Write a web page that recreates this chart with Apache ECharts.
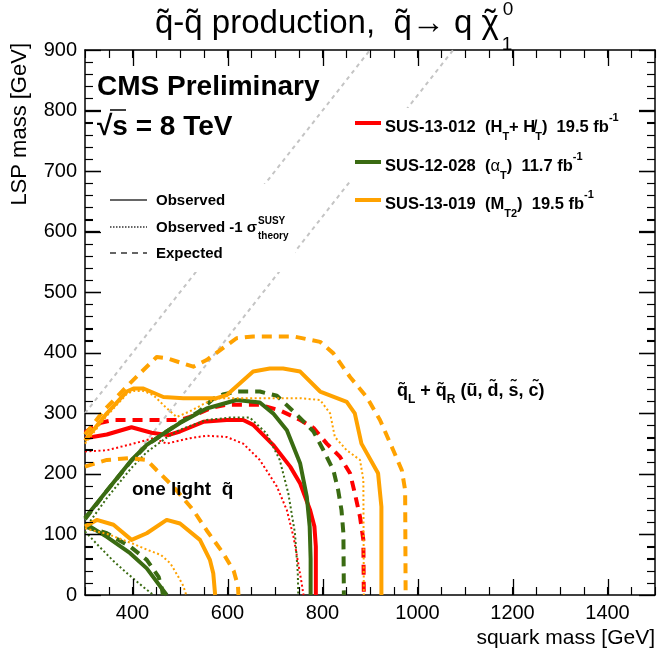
<!DOCTYPE html>
<html><head><meta charset="utf-8">
<script src="https://cdn.jsdelivr.net/npm/echarts@6/dist/echarts.min.js"></script>
<style>html,body{margin:0;padding:0;background:#fff}#c{width:657px;height:664px}</style>
</head><body><div id="c"></div>
<script>
// ---- axis ranges and tick labels ----
const xMin = 300, xMax = 1500;
const yMin = 0, yMax = 900;
const xLabelValues = [400, 600, 800, 1000, 1200, 1400];
const xMinorStep = 50;
const yLabelStep = 100;
const yMinorStep = 20;

// ---- reference diagonals (mLSP = msquark - dm) ----
const diagonalA = [[300, 300], [900, 900]];
const diagonalB = [[300, 125], [1075, 900]];

// ---- SUS-13-012 (HT + MHT), red ----
const redObs = [[300,259],[346,265],[398,277],[440,268],[475,264],[500,270],[549,286],[598,289],[633,289],[654,281],[696,248],[732,212],[753,184],[774,140],[783,113],[786,80],[786,0]];
const redExp = [[300,268],[325,283],[360,289],[500,289],[521,294],[570,310],[598,314],[668,314],[710,305],[753,289],[781,276],[809,250],[837,228],[858,201],[868,168],[879,129],[886,91],[887,0]];
const redObsM1 = [[300,237],[346,239],[402,250],[444,259],[472,250],[521,259],[556,263],[598,261],[633,250],[668,223],[704,179],[725,140],[739,96],[749,52],[756,20],[760,0]];

// ---- SUS-12-028 (alphaT), green ----
const greenObs = [[300,127],[346,172],[398,223],[430,248],[472,270],[500,284],[556,308],[619,322],[668,318],[696,300],[725,272],[753,217],[767,162],[773,113],[775,60],[775,0]];
const greenObsLow = [[300,118],[346,96],[395,69],[430,44],[472,0]];
const greenExp = [[300,125],[346,172],[398,222],[430,247],[472,270],[500,285],[540,303],[556,314],[570,324],[590,331],[619,336],[668,336],[704,329],[739,303],[781,270],[802,239],[823,206],[833,173],[840,140],[844,102],[845,0]];
const greenExpLow = [[300,113],[346,102],[395,80],[430,58],[455,30],[462,10],[464,0]];
const greenObsM1 = [[300,110],[346,160],[398,210],[430,236],[472,260],[500,273],[556,289],[605,293],[647,293],[682,267],[710,223],[728,168],[742,102],[748,36],[749,0]];
const greenObsM1Low = [[300,105],[330,80],[360,56],[390,35],[420,15],[444,0]];

// ---- SUS-13-019 (MT2), orange ----
const orangeObs = [[300,255],[346,300],[388,336],[402,341],[423,341],[465,327],[507,325],[577,325],[598,330],[654,369],[689,374],[717,374],[753,369],[795,336],[851,319],[868,300],[882,250],[917,201],[924,146],[924,0]];
const orangeObsLow = [[300,113],[325,124],[360,116],[398,91],[430,102],[472,124],[500,118],[542,91],[563,58],[570,36],[574,0]];
const orangeExp = [[300,265],[340,305],[395,350],[451,393],[472,391],[528,377],[556,388],[619,424],[654,427],[739,427],[795,418],[823,399],[858,360],[893,327],[921,289],[949,239],[967,206],[974,173],[975,0]];
const orangeExpLow = [[300,212],[346,223],[395,226],[430,223],[451,206],[486,179],[528,140],[556,107],[591,69],[613,40],[622,15],[623,0]];
const orangeObsM1 = [[300,250],[346,296],[388,332],[402,337],[423,337],[444,330],[470,310],[493,294],[520,303],[556,318],[584,325],[753,325],[795,322],[816,300],[826,261],[851,239],[879,223],[886,190],[887,0]];
const orangeObsM1Low = [[300,110],[350,100],[400,85],[430,75],[460,66],[480,52],[495,32],[507,15],[513,0]];

const RED = '#ff0000', GREEN = '#3a6b12', ORANGE = '#ffa200', GRAY = '#c4c4c4';
const FONT = '"Liberation Sans", Arial, Helvetica, sans-serif';
const GRID = {left: 85, right: 2, top: 50, bottom: 69};
const W = 657, H = 664;

function mk(data, color, kind, z) {
  const st = kind === 'solid' ? {width: 4, type: 'solid'}
           : kind === 'dashed' ? {width: 4, type: [10, 7]}
           : kind === 'dotted' ? {width: 2, type: [2, 2.5]}
           : {width: 2, type: [4, 4]};
  return {type: 'line', data: data, showSymbol: false, symbol: 'none', silent: true,
    animation: false, z: z, clip: true,
    lineStyle: {color: color, width: st.width, type: st.type, cap: 'butt', join: 'round'}};
}

const series = [
  mk(diagonalA, GRAY, 'gray', 1), mk(diagonalB, GRAY, 'gray', 1),
  mk(redObsM1, RED, 'dotted', 2), mk(redExp, RED, 'dashed', 2), mk(redObs, RED, 'solid', 2),
  mk(greenObsM1, GREEN, 'dotted', 3), mk(greenObsM1Low, GREEN, 'dotted', 3),
  mk(greenExp, GREEN, 'dashed', 3), mk(greenExpLow, GREEN, 'dashed', 3),
  mk(greenObs, GREEN, 'solid', 3), mk(greenObsLow, GREEN, 'solid', 3),
  mk(orangeObsM1, ORANGE, 'dotted', 4), mk(orangeObsM1Low, ORANGE, 'dotted', 4),
  mk(orangeExp, ORANGE, 'dashed', 4), mk(orangeExpLow, ORANGE, 'dashed', 4),
  mk(orangeObs, ORANGE, 'solid', 4), mk(orangeObsLow, ORANGE, 'solid', 4)
];

const lineAx = {show: true, onZero: false, lineStyle: {color: '#000', width: 1.5}};
function xAx(pos, withLabels) {
  return {type: 'value', min: xMin, max: xMax, interval: xMinorStep, position: pos,
    axisLine: lineAx, splitLine: {show: false},
    axisTick: {show: true, inside: true, length: 8, lineStyle: {color: '#000', width: 1.1}},
    axisLabel: withLabels ? {show: true, customValues: xLabelValues, color: '#000',
      fontSize: 20, fontFamily: FONT, margin: 8, formatter: v => String(v)} : {show: false}};
}
function yAx(pos, withLabels) {
  return {type: 'value', min: yMin, max: yMax, interval: yLabelStep, position: pos,
    axisLine: lineAx, splitLine: {show: false},
    axisTick: {show: true, inside: true, length: 16, lineStyle: {color: '#000', width: 1.3}},
    minorTick: {show: true, splitNumber: 5, length: 8, lineStyle: {color: '#000', width: 1.1}},
    axisLabel: withLabels ? {show: true, color: '#000', fontSize: 20, fontFamily: FONT, margin: 8, formatter: v => String(v)} : {show: false}};
}

const legendLines = [
  {y: 123, color: RED, t: '{b|SUS-13-012  (H}{s|T}{b|+ H\u0338}{s|T}{b|)  19.5 fb}{p|-1}'},
  {y: 162, color: GREEN, t: '{b|SUS-12-028  (}{g|\u03b1}{s|T}{b|)  11.7 fb}{p|-1}'},
  {y: 200, color: ORANGE, t: '{b|SUS-13-019  (M}{s|T2}{b|)  19.5 fb}{p|-1}'}
];
const richStyles = {
  b: {fontSize: 16.5, fontWeight: 'bold', fontFamily: FONT, lineHeight: 30, fill: '#000'},
  g: {fontSize: 16.5, fontFamily: FONT, lineHeight: 30, fill: '#000'},
  s: {fontSize: 11, fontWeight: 'bold', fontFamily: FONT, lineHeight: 14, verticalAlign: 'bottom', fill: '#000'},
  p: {fontSize: 11, fontWeight: 'bold', fontFamily: FONT, lineHeight: 22, verticalAlign: 'top', fill: '#000'}
};

const mctx = document.createElement('canvas').getContext('2d');
function tw(txt, font) { mctx.font = font; return mctx.measureText(txt).width; }
const TITLE_FONT = '33px ' + FONT;
const titleMain = 'q\u0303-q\u0303 production,  q\u0303\u2192 q \u03c7';
const titleX = 155;
const titleW = tw(titleMain, TITLE_FONT);
const chiW = tw('\u03c7', TITLE_FONT);
const chiEnd = titleX + titleW;

const chart = echarts.init(document.getElementById('c'), null, {width: W, height: H});
chart.setOption({
  animation: false,
  grid: GRID,
  xAxis: [xAx('bottom', true), xAx('top', false)],
  yAxis: [yAx('left', true), yAx('right', false)],
  series: series
});

// pixel mapping through the chart's own scales, with a plain grid fallback
function toPx(xv, yv) {
  let p = null;
  try { p = chart.convertToPixel({gridIndex: 0}, [xv, yv]); } catch (e) { p = null; }
  if (!p || !isFinite(p[0]) || !isFinite(p[1])) {
    const x0 = GRID.left, x1 = W - GRID.right, y0 = H - GRID.bottom, y1 = GRID.top;
    p = [x0 + (xv - xMin) / (xMax - xMin) * (x1 - x0), y0 - (yv - yMin) / (yMax - yMin) * (y0 - y1)];
  }
  return p;
}

const graphics = [];
const pLB = toPx(xMin, yMin), pRT = toPx(xMax, yMax);
const gx0 = pLB[0], gyB = pLB[1], gx1 = pRT[0], gyT = pRT[1];
for (let v = xMin + xMinorStep; v < xMax; v += xMinorStep) {
  const px = Math.round(toPx(v, yMin)[0]) + 0.5;
  const major = xLabelValues.indexOf(v) >= 0;
  const len = major ? 16 : 8, lw = major ? 1.3 : 1.1;
  graphics.push({type: 'line', silent: true, z: 70, shape: {x1: px, y1: gyB, x2: px, y2: gyB - len}, style: {stroke: '#000', lineWidth: lw}});
  graphics.push({type: 'line', silent: true, z: 70, shape: {x1: px, y1: gyT, x2: px, y2: gyT + len}, style: {stroke: '#000', lineWidth: lw}});
}
for (let v = yMin + yMinorStep; v < yMax; v += yMinorStep) {
  const py = Math.round(toPx(xMin, v)[1]) + 0.5;
  const major = v % yLabelStep === 0;
  const len = major ? 16 : 8, lw = major ? 1.3 : 1.1;
  graphics.push({type: 'line', silent: true, z: 70, shape: {x1: gx0, y1: py, x2: gx0 + len, y2: py}, style: {stroke: '#000', lineWidth: lw}});
  graphics.push({type: 'line', silent: true, z: 70, shape: {x1: gx1, y1: py, x2: gx1 - len, y2: py}, style: {stroke: '#000', lineWidth: lw}});
}
// legend boxes (white; they hide the diagonals)
graphics.push({type: 'rect', shape: {x: 100, y: 184, width: 195, height: 88}, style: {fill: '#fff'}, z: 50, silent: true});
graphics.push({type: 'rect', shape: {x: 350, y: 108, width: 280, height: 117}, style: {fill: '#fff'}, z: 50, silent: true});
legendLines.forEach(e => {
  graphics.push({type: 'line', shape: {x1: 355, y1: e.y, x2: 381, y2: e.y}, style: {stroke: e.color, lineWidth: 4}, z: 60});
  graphics.push({type: 'text', x: 385, y: e.y + 4, z: 60, style: {text: e.t, rich: richStyles, verticalAlign: 'middle', align: 'left'}});
});
const leftLeg = [
  {y: 200, dash: null, t: 'Observed'},
  {y: 227, dash: [1.5, 1.5], t: 'Observed -1 \u03c3'},
  {y: 253, dash: [6, 5], t: 'Expected'}
];
leftLeg.forEach(e => {
  const ln = {type: 'line', shape: {x1: 110, y1: e.y, x2: 147, y2: e.y}, style: {stroke: '#333', lineWidth: 1.3}, z: 60};
  if (e.dash) ln.style.lineDash = e.dash;
  graphics.push(ln);
  graphics.push({type: 'text', x: 156, y: e.y + 1, z: 60,
    style: {text: e.t, font: 'bold 15px ' + FONT, fill: '#000', verticalAlign: 'middle', align: 'left'}});
});
graphics.push({type: 'text', x: 258, y: 221, z: 60, style: {text: 'SUSY', font: 'bold 10px ' + FONT, fill: '#000', verticalAlign: 'middle'}});
graphics.push({type: 'text', x: 258, y: 236, z: 60, style: {text: 'theory', font: 'bold 10px ' + FONT, fill: '#000', verticalAlign: 'middle'}});
graphics.push({type: 'text', x: 97, y: 87, z: 60, style: {text: 'CMS Preliminary', font: 'bold 28px ' + FONT, fill: '#000', verticalAlign: 'middle'}});
graphics.push({type: 'text', x: 97, y: 127, z: 60, style: {text: '\u221as = 8 TeV', font: 'bold 28px ' + FONT, fill: '#000', verticalAlign: 'middle'}});
graphics.push({type: 'line', shape: {x1: 110, y1: 110, x2: 126, y2: 110}, style: {stroke: '#000', lineWidth: 1.5}, z: 60});
graphics.push({type: 'text', x: titleX, y: 24, z: 60, style: {text: titleMain, font: TITLE_FONT, fill: '#000', verticalAlign: 'middle'}});
graphics.push({type: 'text', x: chiEnd - chiW / 2, y: 24, z: 60, style: {text: '\u02dc', font: TITLE_FONT, fill: '#000', verticalAlign: 'middle', align: 'center'}});
graphics.push({type: 'text', x: chiEnd + 4, y: 10, z: 60, style: {text: '0', font: '19px ' + FONT, fill: '#000', verticalAlign: 'middle'}});
graphics.push({type: 'text', x: chiEnd + 3, y: 45, z: 60, style: {text: '1', font: '19px ' + FONT, fill: '#000', verticalAlign: 'middle'}});
graphics.push({type: 'text', x: 132, y: 490, z: 60, style: {text: 'one light  q\u0303', font: 'bold 19px ' + FONT, fill: '#000', verticalAlign: 'middle'}});
graphics.push({type: 'text', x: 397, y: 391, z: 60, style: {text: '{b|q\u0303}{s|L}{b| + q\u0303}{s|R}{b| (\u0169, d\u0303, s\u0303, c\u0303)}',
  rich: {b: {fontSize: 18, fontWeight: 'bold', fontFamily: FONT, lineHeight: 30, fill: '#000'},
         s: {fontSize: 12, fontWeight: 'bold', fontFamily: FONT, lineHeight: 14, verticalAlign: 'bottom', fill: '#000'}},
  verticalAlign: 'middle'}});
graphics.push({type: 'text', x: 655, y: 638, z: 60, style: {text: 'squark mass [GeV]', font: '21px ' + FONT, fill: '#000', align: 'right', verticalAlign: 'middle'}});
graphics.push({type: 'text', x: 20, y: 43, rotation: Math.PI / 2, z: 60, style: {text: 'LSP mass [GeV]', font: '22px ' + FONT, fill: '#000', align: 'right', verticalAlign: 'middle'}});

chart.setOption({graphic: {elements: graphics}});
</script></body></html>
